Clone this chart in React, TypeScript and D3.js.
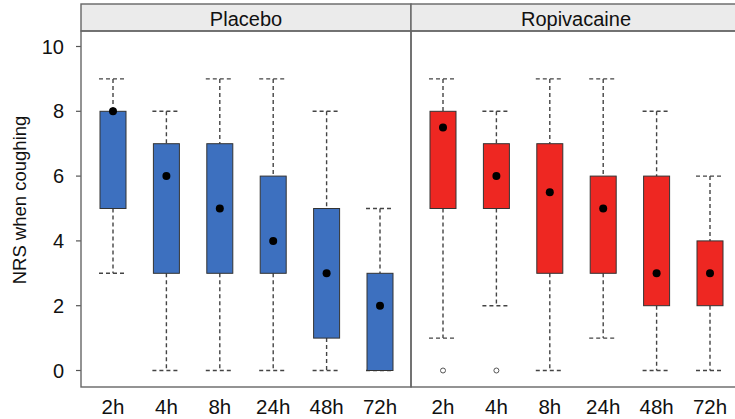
import React from "react";
import * as d3 from "d3";

const times = ["2h", "4h", "8h", "24h", "48h", "72h"];
const groups = ["Placebo", "Ropivacaine"];
const groupColors = ["#3d70bf", "#ee2722"];

// Per group: whisker low, box low (Q1), box high (Q3), whisker high, point estimate
const placeboLow = [3, 0, 0, 0, 0, 0];
const placeboQ1 = [5, 3, 3, 3, 1, 0];
const placeboQ3 = [8, 7, 7, 6, 5, 3];
const placeboHigh = [9, 8, 9, 9, 8, 5];
const placeboMid = [8, 6, 5, 4, 3, 2];
const placeboOutliers: number[][] = [[], [], [], [], [], []];

const ropiLow = [1, 2, 0, 1, 0, 0];
const ropiQ1 = [5, 5, 3, 3, 2, 2];
const ropiQ3 = [8, 7, 7, 6, 6, 4];
const ropiHigh = [9, 8, 9, 9, 8, 6];
const ropiMid = [7.5, 6, 5.5, 5, 3, 3];
const ropiOutliers: number[][] = [[0], [0], [], [], [], []];

const yTicks = [0, 2, 4, 6, 8, 10];

const W = 735;
const H = 419;
const left = 81;
const panelW = 330;
const stripTop = 4;
const stripBottom = 31;
const panelBottom = 387;
const font = "Liberation Sans, Arial, sans-serif";

export default function App() {
  const y = d3.scaleLinear().domain([0, 10]).range([370.5, 46.5]);
  const panels = [
    { low: placeboLow, q1: placeboQ1, q3: placeboQ3, high: placeboHigh, mid: placeboMid, out: placeboOutliers },
    { low: ropiLow, q1: ropiQ1, q3: ropiQ3, high: ropiHigh, mid: ropiMid, out: ropiOutliers },
  ];
  const boxW = 26;
  const capW = 28;
  const whisker = { stroke: "#444", strokeWidth: 1.4, strokeDasharray: "4,3" };

  return (
    <svg width={W} height={H} style={{ position: "absolute", left: 0, top: 0, background: "#fff" }}>
      {/* y axis title */}
      <text
        transform={`translate(19,${200}) rotate(-90)`}
        textAnchor="middle"
        dominantBaseline="central"
        fontFamily={font}
        fontSize={18.5}
        fill="#111"
      >
        NRS when coughing
      </text>
      {/* y ticks */}
      {yTicks.map((t) => (
        <g key={t}>
          <line x1={76} x2={left} y1={y(t)} y2={y(t)} stroke="#555" strokeWidth={1.2} />
          <text
            x={64}
            y={y(t)}
            textAnchor="end"
            dominantBaseline="central"
            fontFamily={font}
            fontSize={20}
            fill="#111"
          >
            {t}
          </text>
        </g>
      ))}
      {groups.map((g, gi) => {
        const x0 = left + gi * panelW;
        const x = d3.scalePoint<string>().domain(times).range([x0 + 32, x0 + panelW - 31]);
        const p = panels[gi];
        return (
          <g key={g}>
            {/* strip */}
            <rect x={x0} y={stripTop} width={panelW} height={stripBottom - stripTop} fill="#ebebeb" stroke="#666" strokeWidth={1.4} />
            <text
              x={x0 + panelW / 2}
              y={(stripTop + stripBottom) / 2 + 1}
              textAnchor="middle"
              dominantBaseline="central"
              fontFamily={font}
              fontSize={20}
              fill="#111"
            >
              {g}
            </text>
            {/* panel frame */}
            <rect x={x0} y={stripBottom} width={panelW} height={panelBottom - stripBottom} fill="none" stroke="#666" strokeWidth={1.4} />
            {times.map((t, i) => {
              const cx = x(t)!;
              return (
                <g key={t}>
                  <line x1={cx} x2={cx} y1={y(p.high[i])} y2={y(p.q3[i])} {...whisker} />
                  <line x1={cx} x2={cx} y1={y(p.q1[i])} y2={y(p.low[i])} {...whisker} />
                  <line x1={cx - capW / 2} x2={cx + capW / 2} y1={y(p.high[i])} y2={y(p.high[i])} {...whisker} />
                  <line x1={cx - capW / 2} x2={cx + capW / 2} y1={y(p.low[i])} y2={y(p.low[i])} {...whisker} />
                  <rect
                    x={cx - boxW / 2}
                    y={y(p.q3[i])}
                    width={boxW}
                    height={y(p.q1[i]) - y(p.q3[i])}
                    fill={groupColors[gi]}
                    stroke="#333"
                    strokeWidth={1}
                  />
                  <circle cx={cx} cy={y(p.mid[i])} r={4} fill="#000" />
                  {p.out[i].map((o, k) => (
                    <circle key={k} cx={cx} cy={y(o)} r={2.5} fill="#fff" stroke="#555" strokeWidth={1} />
                  ))}
                  <text
                    x={cx}
                    y={414}
                    textAnchor="middle"
                    fontFamily={font}
                    fontSize={20.5}
                    fill="#111"
                  >
                    {t}
                  </text>
                </g>
              );
            })}
          </g>
        );
      })}
    </svg>
  );
}
